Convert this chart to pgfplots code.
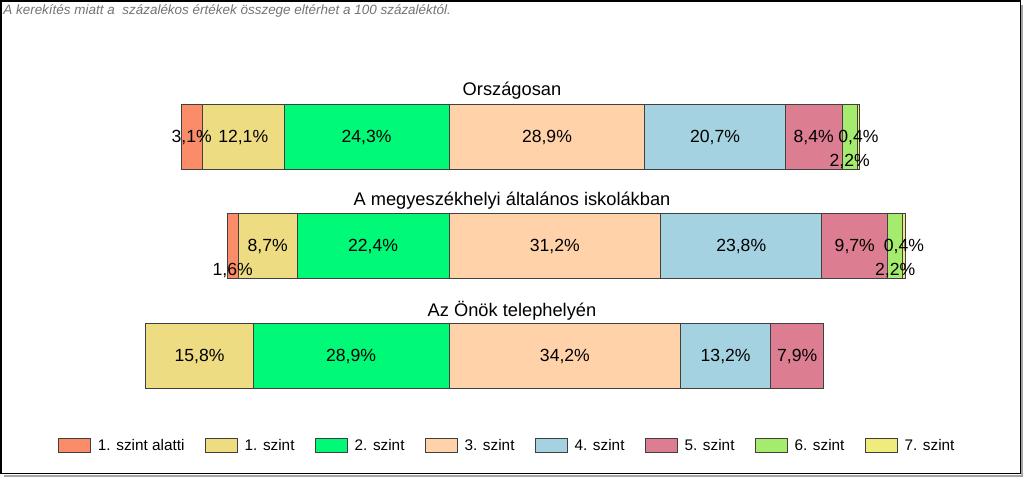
\documentclass[border=0pt]{standalone}
\usepackage{fontspec}
\setmainfont{Liberation Sans}
\usepackage{pgfplots}
\pgfplotsset{compat=1.18}
\definecolor{c0}{RGB}{250,140,105}
\definecolor{c1}{RGB}{238,220,130}
\definecolor{c2}{RGB}{0,250,120}
\definecolor{c3}{RGB}{255,210,170}
\definecolor{c4}{RGB}{165,210,225}
\definecolor{c5}{RGB}{220,125,145}
\definecolor{c6}{RGB}{165,235,110}
\definecolor{c7}{RGB}{240,235,125}
\pgfplotsset{
  base/.style={
    scale only axis, width=768pt, height=358.5pt,
    xmin=-66.224, xmax=84.808, ymin=0, ymax=478,
    hide axis, clip=false,
    xbar stacked, bar width=48.75pt,
    visualization depends on={value \thisrow{val} \as \rawv},
    visualization depends on={value \thisrow{dy} \as \dy},
    nodes near coords={\ifdim\rawv pt>0pt \pgfmathprintnumber[assume math mode=true,fixed,fixed zerofill,precision=1,use comma]{\rawv}\%\fi},
    every node near coord/.append style={font=\fontsize{13.2}{15}\selectfont, anchor=center, yshift=\dy pt, inner sep=0pt},
    every axis plot/.append style={draw=black!75, line width=0.75pt},
  }
}
\begin{document}
\begin{tikzpicture}
% left side (levels below 3)
\begin{axis}[base]
\addplot[fill=c2] table[x expr=-\thisrow{val},y=y] {
y val dy
341 24.3 0
231.5 22.4 0
122 28.9 0
};
\addplot[fill=c1] table[x expr=-\thisrow{val},y=y] {
y val dy
341 12.1 0
231.5 8.7 0
122 15.8 0
};
\addplot[fill=c0] table[x expr=-\thisrow{val},y=y] {
y val dy
341 3.1 0
231.5 1.6 -18
122 0 0
};
\end{axis}
% right side
\begin{axis}[base,
  legend columns=8,
  legend style={at={(rel axis cs:0.0527,0.067)}, anchor=west, draw=none, fill=none,
    font=\fontsize{11.5}{13}\selectfont,
    /tikz/every odd column/.append style={column sep=3pt},
    /tikz/every even column/.append style={column sep=13.25pt}},
  legend image code/.code={\draw[#1] (0pt,-5.25pt) rectangle (24pt,5.25pt);},
]
\addlegendimage{fill=c0, draw=black!75, line width=0.75pt}
\addlegendimage{fill=c1, draw=black!75, line width=0.75pt}
\addlegendimage{fill=c2, draw=black!75, line width=0.75pt}
\addplot[fill=c3] table[x=val,y=y] {
y val dy
341 28.9 0
231.5 31.2 0
122 34.2 0
};
\addplot[fill=c4] table[x=val,y=y] {
y val dy
341 20.7 0
231.5 23.8 0
122 13.2 0
};
\addplot[fill=c5] table[x=val,y=y] {
y val dy
341 8.4 0
231.5 9.7 0
122 7.9 0
};
\addplot[fill=c6] table[x=val,y=y] {
y val dy
341 2.2 -18.5
231.5 2.2 -18
122 0 0
};
\addplot[fill=c7] table[x=val,y=y] {
y val dy
341 0.4 0
231.5 0.4 0
122 0 0
};
\legend{1. szint alatti,1. szint,2. szint,3. szint,4. szint,5. szint,6. szint,7. szint}
\node[font=\fontsize{13.7}{16}\selectfont] at (axis cs:9.29,387) {Országosan};
\node[font=\fontsize{13.7}{16}\selectfont] at (axis cs:9.29,277) {A megyeszékhelyi általános iskolákban};
\node[font=\fontsize{13.7}{16}\selectfont] at (axis cs:9.29,167) {Az Önök telephelyén};
\node[anchor=west, inner sep=0pt, text=black!55, font=\fontsize{10.1}{12}\itshape] at (rel axis cs:0.003,0.978) {A kerekítés miatt a\ \ százalékos értékek összege eltérhet a 100 százaléktól.};
\draw[black!35, line width=1.5pt] (rel axis cs:0.004,0.004) -- (rel axis cs:0.9985,0.004) -- (rel axis cs:0.9985,0.99);
\draw[black, line width=1.2pt] (rel axis cs:0.001,0.009) rectangle (rel axis cs:0.9965,0.998);
\path (rel axis cs:0,0) rectangle (rel axis cs:1,1);
\end{axis}
\end{tikzpicture}
\end{document}
